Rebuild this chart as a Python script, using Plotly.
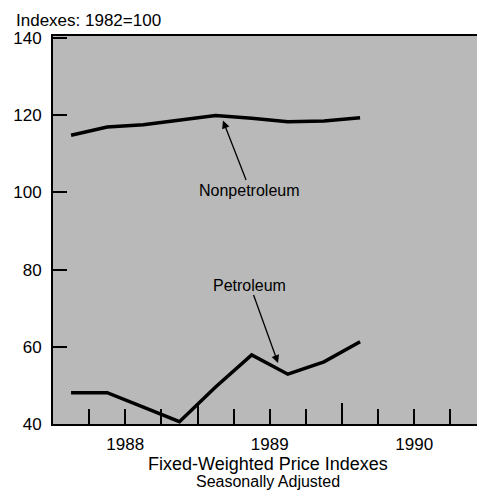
import plotly.graph_objects as go

# ---- data ----
quarters = ["1988Q1", "1988Q2", "1988Q3", "1988Q4",
            "1989Q1", "1989Q2", "1989Q3", "1989Q4", "1990Q1"]
petroleum = [48.1, 48.1, 44.4, 40.6, 49.6, 57.9, 52.9, 56.1, 61.3]
nonpetroleum = [114.8, 116.9, 117.5, 118.7, 119.9, 119.2, 118.3, 118.5, 119.3]
years = [1988, 1989, 1990]
y_ticks = [40, 60, 80, 100, 120, 140]


def qpos(q):
    y, n = q.split("Q")
    return int(y) + (int(n) - 0.5) / 4.0


xs = [qpos(q) for q in quarters]

# quarter ticks (not on year boundaries), labels at mid-year
major_vals, major_text = [], []
for yr in years:
    for k in (1, 2, 3):
        major_vals.append(yr + k / 4.0)
        major_text.append(str(yr) if k == 2 else "")
year_bounds = [yr for yr in years[1:]]

FONT = "Liberation Sans, Arial, Helvetica, sans-serif"

fig = go.Figure()
fig.add_trace(go.Scatter(x=xs, y=nonpetroleum, mode="lines",
                         line=dict(color="black", width=3.5),
                         name="Nonpetroleum", showlegend=False))
fig.add_trace(go.Scatter(x=xs, y=petroleum, mode="lines",
                         line=dict(color="black", width=3.5),
                         name="Petroleum", showlegend=False))

fig.update_layout(
    width=477, height=493,
    margin=dict(l=53, r=0, t=36, b=69),
    paper_bgcolor="white",
    plot_bgcolor="#b9b9b9",
    font=dict(family=FONT, size=17, color="black"),
    xaxis=dict(
        range=[1988, 1990.934],
        tickmode="array", tickvals=major_vals, ticktext=major_text,
        ticks="inside", ticklen=15, tickwidth=2, tickcolor="black",
        showline=True, linecolor="black", linewidth=2, mirror=True,
        showgrid=False, zeroline=False,
        tickfont=dict(family=FONT, size=17),
        ticklabelstandoff=4,
        minor=dict(tickmode="array", tickvals=year_bounds, ticks="inside",
                   ticklen=21, tickwidth=2, tickcolor="black", showgrid=False),
    ),
    yaxis=dict(
        range=[40, 140.5],
        tickmode="array", tickvals=y_ticks,
        ticks="inside", ticklen=14, tickwidth=2, tickcolor="black",
        showline=True, linecolor="black", linewidth=2,
        showgrid=False, zeroline=False,
        tickfont=dict(family=FONT, size=17),
        ticklabelstandoff=6,
    ),
)

fig.add_annotation(text="Indexes: 1982=100", xref="paper", yref="paper",
                   x=-0.092, y=1.041, xanchor="left", yanchor="middle",
                   showarrow=False, font=dict(family=FONT, size=17))
fig.add_annotation(text="Fixed-Weighted Price Indexes", xref="paper", yref="paper",
                   x=0.507, y=-0.104, xanchor="center", yanchor="middle",
                   showarrow=False, font=dict(family=FONT, size=18))
fig.add_annotation(text="Seasonally Adjusted", xref="paper", yref="paper",
                   x=0.507, y=-0.147, xanchor="center", yanchor="middle",
                   showarrow=False, font=dict(family=FONT, size=16))

fig.add_annotation(text="Nonpetroleum", x=1989.176, y=118.6,
                   ax=1989.363, ay=100.6, axref="x", ayref="y",
                   showarrow=True, arrowhead=2, arrowsize=1.2, arrowwidth=1.3,
                   arrowcolor="black", font=dict(family=FONT, size=16))
fig.add_annotation(text="Petroleum", x=1989.557, y=55.8,
                   ax=1989.363, ay=76.0, axref="x", ayref="y",
                   showarrow=True, arrowhead=2, arrowsize=1.2, arrowwidth=1.3,
                   arrowcolor="black", font=dict(family=FONT, size=16))

fig.write_html(
    "out.html",
    config={"displayModeBar": False},
    post_script="document.body.style.margin='0';"
                "document.body.style.overflow='hidden';"
                "document.documentElement.style.overflow='hidden';",
)
